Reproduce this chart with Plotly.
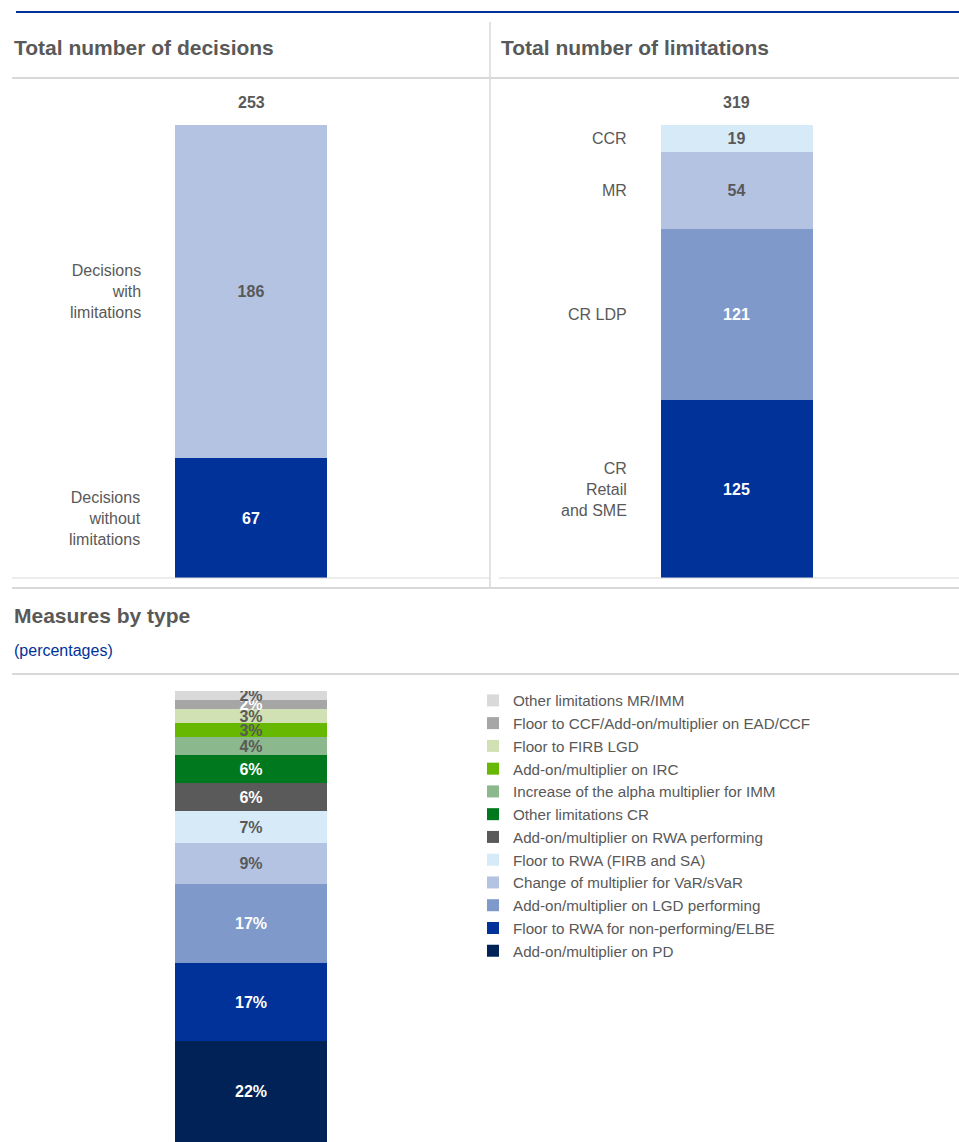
import plotly.graph_objects as go

W, H = 959, 1142

# top left: decisions (bottom segment first)
decision_labels = ["Decisions<br>without<br>limitations", "Decisions<br>with<br>limitations"]
decision_values = [67, 186]
decision_colors = ["#003299", "#b3c3e1"]
decision_text_colors = ["white", "#595959"]

# top right: limitations (bottom segment first)
limitation_labels = ["CR<br>Retail<br>and SME", "CR LDP", "MR", "CCR"]
limitation_values = [125, 121, 54, 19]
limitation_colors = ["#003299", "#7f99cb", "#b3c3e1", "#d6ebf7"]
limitation_text_colors = ["white", "white", "#595959", "#595959"]

# bottom: measures by type, percentages (bottom segment first)
measure_labels = [
    "Add-on/multiplier on PD",
    "Floor to RWA for non-performing/ELBE",
    "Add-on/multiplier on LGD performing",
    "Change of multiplier for VaR/sVaR",
    "Floor to RWA (FIRB and SA)",
    "Add-on/multiplier on RWA performing",
    "Other limitations CR",
    "Increase of the alpha multiplier for IMM",
    "Add-on/multiplier on IRC",
    "Floor to FIRB LGD",
    "Floor to CCF/Add-on/multiplier on EAD/CCF",
    "Other limitations MR/IMM",
]
measure_values = [22, 17, 17, 9, 7, 6, 6, 4, 3, 3, 2, 2]
measure_colors = ["#002256", "#003299", "#7f99cb", "#b3c3e1", "#d6ebf7", "#5a5a5a",
                  "#00781e", "#8bb88c", "#66b800", "#d1e1b3", "#a6a6a6", "#d9d9d9"]
measure_text_colors = ["white", "white", "white", "#595959", "#595959", "white",
                       "white", "#595959", "#595959", "#595959", "white", "#595959"]

GRAY = "#595959"
LINE = "#d9d9d9"
BLUE = "#003299"
FONT = "Liberation Sans, Arial, sans-serif"


def px_x(x):
    return x / W


def px_y(y):
    return 1 - y / H


fig = go.Figure()


def add_stack(values, colors, text_colors, xa, ya, names=None, legend=False,
              suffix=""):
    for i, v in enumerate(values):
        fig.add_trace(go.Bar(
            x=[0], y=[v], width=1, xaxis=xa, yaxis=ya,
            marker=dict(color=colors[i], line=dict(width=0)),
            text=[f"{v}{suffix}"], textposition="inside",
            insidetextanchor="middle", constraintext="none",
            textfont=dict(color=text_colors[i], size=16, family=FONT,
                          weight="bold"),
            name=names[i] if names else "",
            legendrank=100 - i,
            showlegend=legend, hoverinfo="skip",
        ))


add_stack(decision_values, decision_colors, decision_text_colors, "x", "y")
add_stack(limitation_values, limitation_colors, limitation_text_colors, "x2", "y2")
add_stack(measure_values, measure_colors, measure_text_colors, "x3", "y3",
          names=measure_labels, legend=True, suffix="%")

# category labels at segment middles, left of the bars
annotations = []


def side_labels(labels, values, xref, yref):
    base = 0
    for lab, v in zip(labels, values):
        annotations.append(dict(
            x=-0.5, y=base + v / 2, xref=xref, yref=yref, text=lab,
            xanchor="right", yanchor="middle", align="right", xshift=-32,
            showarrow=False, font=dict(size=16, color=GRAY, family=FONT)))
        base += v


side_labels(decision_labels, decision_values, "x", "y")
side_labels(limitation_labels, limitation_values, "x2", "y2")

# totals above the bars
for xref, yref, vals in [("x", "y", decision_values), ("x2", "y2", limitation_values)]:
    annotations.append(dict(
        x=0, y=sum(vals), xref=xref, yref=yref, text=str(sum(vals)),
        xanchor="center", yanchor="bottom", yshift=12, showarrow=False,
        font=dict(size=16, color=GRAY, family=FONT, weight="bold")))

# titles
for x, y, t in [(12, 48, "Total number of decisions"),
                (499, 48, "Total number of limitations"),
                (12, 615, "Measures by type")]:
    annotations.append(dict(
        x=px_x(x), y=px_y(y), xref="paper", yref="paper", text=t,
        xanchor="left", yanchor="middle", showarrow=False,
        font=dict(size=21, color=GRAY, family=FONT, weight="bold")))
annotations.append(dict(
    x=px_x(12), y=px_y(650), xref="paper", yref="paper", text="(percentages)",
    xanchor="left", yanchor="middle", showarrow=False,
    font=dict(size=16, color=BLUE, family=FONT)))


def hline(x0, x1, y, color=LINE, width=2):
    return dict(type="line", xref="paper", yref="paper", x0=px_x(x0), x1=px_x(x1),
                y0=px_y(y), y1=px_y(y), line=dict(color=color, width=width))


shapes = [
    hline(16, 959, 12, BLUE, 2),
    hline(12, 959, 78),
    hline(12, 489, 578, width=1),
    hline(499, 959, 578, width=1),
    hline(12, 959, 588),
    hline(12, 959, 674),
    dict(type="line", xref="paper", yref="paper", x0=px_x(490), x1=px_x(490),
         y0=px_y(22), y1=px_y(588), line=dict(color=LINE, width=1.5)),
]

top_dom = [px_y(578), px_y(125)]
bar_px = 152
left_range = [-251 / bar_px, -251 / bar_px + 479.5 / bar_px]
right_range = [-257 / bar_px, -257 / bar_px + 479.5 / bar_px]
hidden = dict(visible=False, fixedrange=True)

fig.update_layout(
    width=W, height=H,
    margin=dict(l=0, r=0, t=0, b=0),
    paper_bgcolor="white", plot_bgcolor="white",
    barmode="stack", bargap=0,
    font=dict(family=FONT, color=GRAY),
    xaxis=dict(domain=[0, 0.5], range=left_range, **hidden),
    yaxis=dict(domain=top_dom, range=[0, sum(decision_values)], **hidden),
    xaxis2=dict(domain=[0.5, 1], range=right_range, **hidden),
    yaxis2=dict(domain=top_dom, range=[0, sum(limitation_values)], **hidden),
    xaxis3=dict(domain=[0, 0.5], range=left_range, **hidden),
    yaxis3=dict(domain=[0, px_y(691)], range=[0, sum(measure_values)], **hidden),
    legend=dict(
        x=px_x(473), y=px_y(684), xanchor="left", yanchor="top",
        traceorder="normal",
        font=dict(size=15.2, color=GRAY, family=FONT),
        bgcolor="rgba(0,0,0,0)",
    ),
    annotations=annotations,
    shapes=shapes,
)

# the page's default 8px body margin would shift the whole figure
fig.write_html("out.html", config={"displayModeBar": False},
               post_script="document.body.style.margin='0px';")
